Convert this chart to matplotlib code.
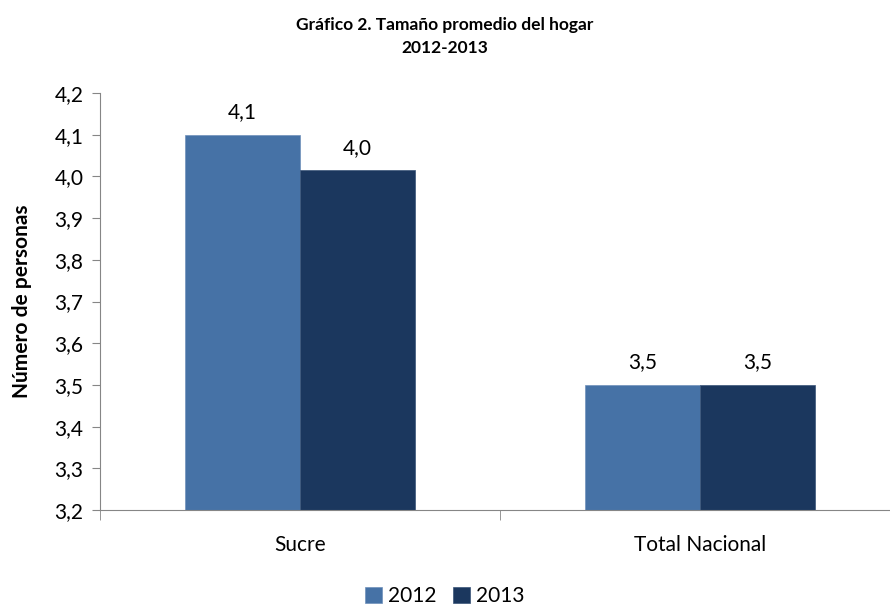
import numpy as np
import matplotlib.pyplot as plt

plt.rcParams['font.family'] = ['Lato', 'DejaVu Sans']

categories = ['Sucre', 'Total Nacional']
years = ['2012', '2013']
values_2012 = [4.10, 3.50]
values_2013 = [4.015, 3.50]
labels_2012 = ['4,1', '3,5']
labels_2013 = ['4,0', '3,5']
yticks = [3.2, 3.3, 3.4, 3.5, 3.6, 3.7, 3.8, 3.9, 4.0, 4.1, 4.2]

c2012 = '#4672A6'
c2013 = '#1B375E'

fig = plt.figure(figsize=(8.9, 6.1), dpi=100)
ax = fig.add_axes([100/890, 100/610, 800/890, 417/610])

x = np.arange(len(categories))
w = 0.2875
b1 = ax.bar(x - w/2, values_2012, w, color=c2012, label=years[0], edgecolor='#6F90BB', linewidth=0.5)
b2 = ax.bar(x + w/2, values_2013, w, color=c2013, label=years[1], edgecolor='#3A5478', linewidth=0.5)

for rect, lab in zip(b1, labels_2012):
    ax.text(rect.get_x() + rect.get_width()/2, rect.get_height() + 0.03, lab,
            ha='center', va='bottom', fontsize=15)
for rect, lab in zip(b2, labels_2013):
    ax.text(rect.get_x() + rect.get_width()/2, rect.get_height() + 0.03, lab,
            ha='center', va='bottom', fontsize=15)

ax.set_ylim(3.2, 4.2)
ax.set_xlim(-0.5, 1.5)
ax.set_yticks(yticks)
ax.set_yticklabels([f'{t:.1f}'.replace('.', ',') for t in yticks], fontsize=15)
ax.set_xticks(x)
ax.set_xticklabels(categories, fontsize=15)
ax.set_xticks([-0.5, 0.5, 1.5], minor=True)
ax.tick_params(axis='x', which='major', length=0, pad=18)
ax.tick_params(axis='x', which='minor', length=7, color='#868686')
ax.tick_params(axis='y', length=6, color='#868686', pad=6)

for s in ['top', 'right']:
    ax.spines[s].set_visible(False)
for s in ['left', 'bottom']:
    ax.spines[s].set_color('#868686')

ax.set_ylabel('Número de personas', fontsize=15, fontweight='bold', labelpad=16)
fig.text(0.5, 0.94, 'Gráfico 2. Tamaño promedio del hogar\n2012-2013', ha='center', va='center',
         fontsize=12.5, fontweight='bold', linespacing=1.5)

fig.legend(loc='lower center', ncol=2, frameon=False, fontsize=15, handlelength=0.8,
           handleheight=0.8, handletextpad=0.3, columnspacing=0.8, bbox_to_anchor=(0.5, -0.025))

plt.savefig('out.png', dpi=100)
